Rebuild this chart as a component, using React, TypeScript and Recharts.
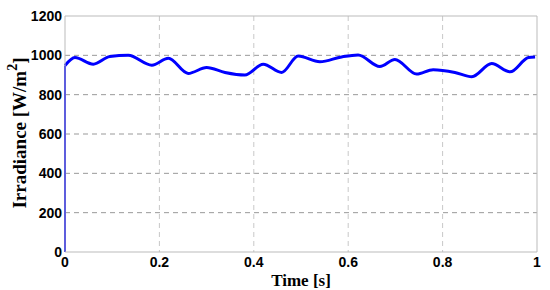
import React from "react";
import {
  LineChart,
  Line,
  XAxis,
  YAxis,
  CartesianGrid,
  ReferenceLine,
} from "recharts";

// irradiance profile
const time = [
  0, 0.021, 0.06, 0.095, 0.134, 0.184, 0.219, 0.261, 0.3, 0.339, 0.381, 0.42,
  0.459, 0.494, 0.54, 0.586, 0.621, 0.667, 0.699, 0.745, 0.78, 0.826, 0.862,
  0.904, 0.943, 0.982, 0.996,
];
const irradiance = [
  948, 989, 955, 994, 1000, 950, 985, 908, 938, 913, 900, 955, 913, 996, 967,
  992, 1002, 943, 979, 905, 927, 913, 891, 958, 916, 989, 992,
];
// step at t = 0
const startTime = [0, 0];
const startIrradiance = [0, 948];

const xTicks = [0, 0.2, 0.4, 0.6, 0.8, 1];
const yTicks = [0, 200, 400, 600, 800, 1000, 1200];

const data = time.map((t, i) => ({ t, v: irradiance[i] }));
const startData = startTime.map((t, i) => ({ t, v: startIrradiance[i] }));

const tickStyle = {
  fontFamily: "'Liberation Sans', Arial, sans-serif",
  fontWeight: "bold",
  fontSize: 14,
  fill: "#000",
};

const labelFont = "'Liberation Serif', 'Times New Roman', serif";

function YLabel() {
  const cx = 19;
  const cy = 133;
  return (
    <text
      x={cx}
      y={cy}
      transform={`rotate(-90, ${cx}, ${cy})`}
      textAnchor="middle"
      dominantBaseline="central"
      fontFamily={labelFont}
      fontWeight="bold"
      fontSize={19}
      fill="#000"
    >
      Irradiance [W/m
      <tspan dy={-7} fontSize={14}>
        2
      </tspan>
      <tspan dy={7}>]</tspan>
    </text>
  );
}

export default function App() {
  return (
    <div style={{ position: "absolute", left: 0, top: 0, background: "#fff" }}>
      <LineChart
        width={550}
        height={290}
        margin={{ top: 16, right: 13, bottom: 0, left: 0 }}
      >
        <CartesianGrid
          vertical={false}
          stroke="#999"
          strokeDasharray="5 4"
          horizontalValues={[200, 400, 600, 800, 1000]}
        />
        <CartesianGrid
          horizontal={false}
          stroke="#c8c8c8"
          strokeDasharray="5 4"
          verticalValues={[0.2, 0.4, 0.6, 0.8]}
        />
        <XAxis
          type="number"
          dataKey="t"
          domain={[0, 1]}
          ticks={xTicks}
          tickFormatter={(v: number) => String(v)}
          height={38}
          stroke="#bbb"
          tickLine={false}
          tickSize={0}
          tickMargin={5}
          tick={tickStyle}
          label={{
            value: "Time [s]",
            position: "insideBottom",
            offset: 4,
            style: {
              fontFamily: labelFont,
              fontWeight: "bold",
              fontSize: 17,
              fill: "#000",
            },
          }}
        />
        <YAxis
          type="number"
          dataKey="v"
          domain={[0, 1200]}
          ticks={yTicks}
          width={65}
          stroke="#bbb"
          tickLine={false}
          tickSize={0}
          tickMargin={3}
          tick={tickStyle}
          label={{ content: () => <YLabel /> }}
        />
        <ReferenceLine y={1200} stroke="#bbb" />
        <ReferenceLine x={1} stroke="#bbb" />
        <Line
          data={startData}
          dataKey="v"
          type="linear"
          stroke="#0000ff"
          strokeWidth={2}
          dot={false}
          isAnimationActive={false}
        />
        <Line
          data={data}
          dataKey="v"
          type="monotone"
          stroke="#0000ff"
          strokeWidth={3}
          dot={false}
          isAnimationActive={false}
        />
      </LineChart>
    </div>
  );
}
